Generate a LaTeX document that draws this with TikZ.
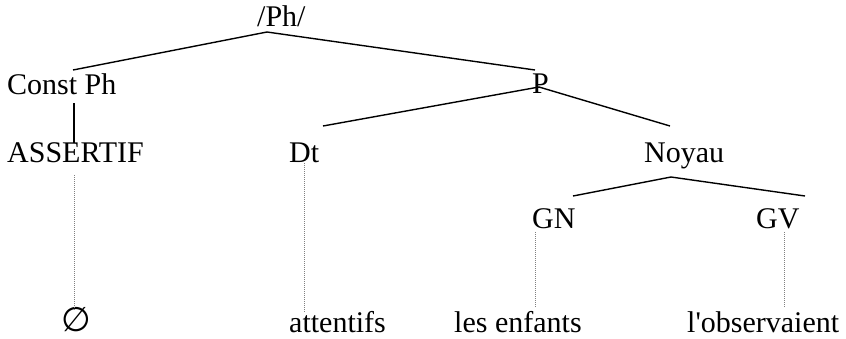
\documentclass[tikz,border=0pt]{standalone}
\usepackage{fontspec}
\setmainfont{Liberation Serif}
\newfontfamily\symfont{DejaVu Sans}
\begin{document}
\begin{tikzpicture}[x=1pt,y=-1pt,
  lbl/.style={inner sep=0pt,anchor=base west,font=\fontsize{30}{36}\selectfont},
  branch/.style={line width=1.4pt,black},
  link/.style={line width=0.6pt,gray,dash pattern=on 1pt off 1pt}]
\useasboundingbox (0,0) rectangle (846,338);
% labels
\node[lbl] (ph) at (257,26) {/Ph/};
\node[lbl] (const) at (7,94) {Const Ph};
\node[lbl] (p) at (532,93) {P};
\node[lbl] (assert) at (7,162) {ASSERTIF};
\node[lbl] (dt) at (289,162) {Dt};
\node[lbl] (noyau) at (644,162) {Noyau};
\node[lbl] (gn) at (532,228) {GN};
\node[lbl] (gv) at (756,228) {GV};
\node[inner sep=0pt,anchor=base,font=\symfont\fontsize{34}{40}\selectfont] (empty) at (76,331) {∅};
\node[lbl] (attentifs) at (289,332) {attentifs};
\node[lbl] (enfants) at (454,332) {les enfants};
\node[lbl] (observ) at (687,332) {l\textquotesingle observaient};
% attachment points
\coordinate (ph-s) at (267,32);
\coordinate (const-n) at (73,70);
\coordinate (p-n) at (535,70);
\coordinate (p-s) at (539,87);
\coordinate (dt-n) at (323,126);
\coordinate (noyau-n) at (670,126);
\coordinate (const-s) at (74,103);
\coordinate (assert-n) at (74,143);
\coordinate (noyau-s) at (671,177);
\coordinate (gn-n) at (573,196);
\coordinate (gv-n) at (805,196);
\coordinate (assert-s) at (74,175);
\coordinate (empty-n) at (74,310);
\coordinate (dt-s) at (304,163);
\coordinate (attentifs-n) at (304,312);
\coordinate (gn-s) at (535,232);
\coordinate (enfants-n) at (535,307);
\coordinate (gv-s) at (784,232);
\coordinate (observ-n) at (784,307);
% branches
\draw[branch] (const-n) -- (ph-s) -- (p-n);
\draw[branch] (dt-n) -- (p-s) -- (noyau-n);
\draw[branch] (const-s) -- (assert-n);
\draw[branch] (gn-n) -- (noyau-s) -- (gv-n);
% lexical links
\draw[link] (assert-s) -- (empty-n);
\draw[link] (dt-s) -- (attentifs-n);
\draw[link] (gn-s) -- (enfants-n);
\draw[link] (gv-s) -- (observ-n);
\end{tikzpicture}
\end{document}
